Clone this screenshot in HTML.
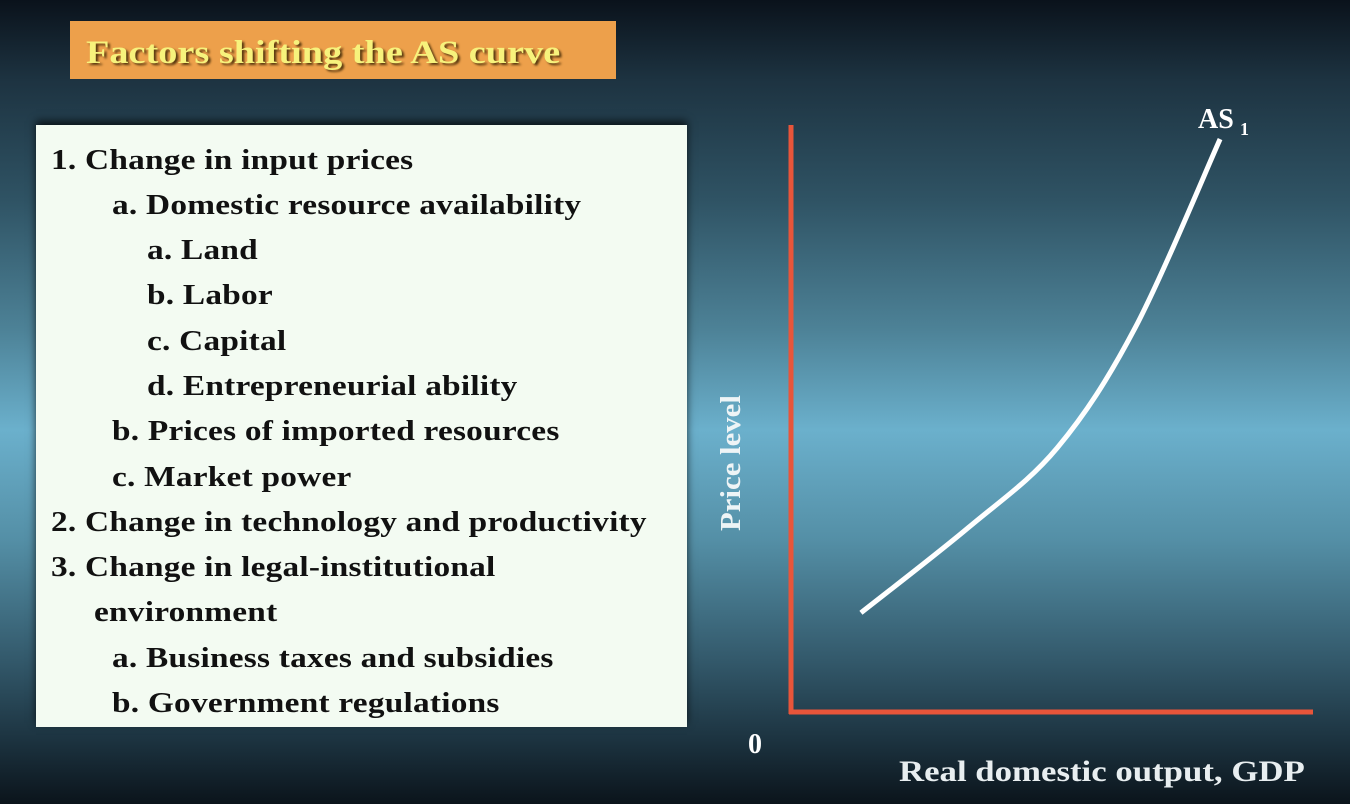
<!DOCTYPE html>
<html><head><meta charset="utf-8"><style>
body{margin:0;width:1350px;height:804px;overflow:hidden;position:relative;font-family:"Liberation Serif",serif;
background:linear-gradient(180deg,#0a121b 0px,#1d3341 80px,#2f5364 200px,#4d8297 330px,#6bb0cc 430px,#548fa6 540px,#33596b 660px,#1c3340 740px,#0b141b 804px);}
#title{position:absolute;left:70px;top:21px;width:546px;height:58px;background:#eda04b;}
#title span{position:absolute;left:16px;top:14px;font-size:33px;font-weight:bold;color:#f7f27c;text-shadow:2px 2px 2px #5a3a10;white-space:nowrap;transform:scaleX(1.16);transform-origin:0 0}
#box{position:absolute;left:36px;top:125px;width:651px;height:602px;background:#f3fbf2;box-shadow:0 -4px 8px rgba(0,0,0,.7);}
.ln{position:absolute;font-size:28px;font-weight:bold;color:#111;white-space:nowrap;transform:scaleX(1.19);transform-origin:0 0;letter-spacing:0.2px}
</style></head><body>
<div id="title"><span>Factors shifting the AS curve</span></div>
<div id="box">
<div class="ln" style="left:15px;top:20px">1. Change in input prices</div>
<div class="ln" style="left:76px;top:65px">a. Domestic resource availability</div>
<div class="ln" style="left:111px;top:110px">a. Land</div>
<div class="ln" style="left:111px;top:155px">b. Labor</div>
<div class="ln" style="left:111px;top:201px">c. Capital</div>
<div class="ln" style="left:111px;top:246px">d. Entrepreneurial ability</div>
<div class="ln" style="left:76px;top:291px">b. Prices of imported resources</div>
<div class="ln" style="left:76px;top:337px">c. Market power</div>
<div class="ln" style="left:15px;top:382px">2. Change in technology and productivity</div>
<div class="ln" style="left:15px;top:427px">3. Change in legal-institutional</div>
<div class="ln" style="left:58px;top:472px">environment</div>
<div class="ln" style="left:76px;top:518px">a. Business taxes and subsidies</div>
<div class="ln" style="left:76px;top:563px">b. Government regulations</div>
</div>
<svg id="chart" width="1350" height="804" style="position:absolute;left:0;top:0"></svg>
<script>
const curveX=[13.4,34.1,51.0,65.9,82.2];
const curveY=[16.9,31.5,45.0,65.4,97.6];
const X0=791,X1=1313,Y0=712,Y1=125;
const sx=v=>X0+v/100*(X1-X0), sy=v=>Y0-v/100*(Y0-Y1);
const svg=document.getElementById('chart'),NS='http://www.w3.org/2000/svg';
function mk(t,a,txt){const e=document.createElementNS(NS,t);for(const k in a)e.setAttribute(k,a[k]);if(txt!=null)e.textContent=txt;svg.appendChild(e);return e;}
let e=mk('line',{x1:X0,y1:Y1,x2:X0,y2:Y0+2,stroke:'#e8553a','stroke-width':5});


e=mk('line',{x1:X0-2,y1:Y0,x2:X1,y2:Y0,stroke:'#e8553a','stroke-width':5});


const P=curveX.map((x,i)=>[sx(x),sy(curveY[i])]);
let d='M'+P[0][0]+','+P[0][1];
for(let i=0;i<P.length-1;i++){const p0=P[Math.max(0,i-1)],p1=P[i],p2=P[i+1],p3=P[Math.min(P.length-1,i+2)];
d+=' C'+(p1[0]+(p2[0]-p0[0])/6)+','+(p1[1]+(p2[1]-p0[1])/6)+' '+(p2[0]-(p3[0]-p1[0])/6)+','+(p2[1]-(p3[1]-p1[1])/6)+' '+p2[0]+','+p2[1];}
e=mk('path',{d:d,fill:'none',stroke:'#fff','stroke-width':5,'stroke-linecap':'butt'});


const F='font-family:"Liberation Serif",serif;font-weight:bold;fill:#fff';
e=mk('text',{x:1198,y:128,style:F+';font-size:28px'},'AS');


e=mk('text',{x:1240,y:135,style:F+';font-size:18px'},'1');


e=mk('text',{x:748,y:753,style:F+';font-size:28px'},'0');


e=mk('text',{x:0,y:0,transform:'translate(899,781) scale(1.16,1)',style:F+';font-size:30px;fill:#e8eef0'},'Real domestic output, GDP');


e=mk('text',{x:0,y:0,transform:'translate(740,531) rotate(-90) scale(1.1,1)',style:F+';font-size:28px;fill:#eef4f6'},'Price level');


</script>
</body></html>
